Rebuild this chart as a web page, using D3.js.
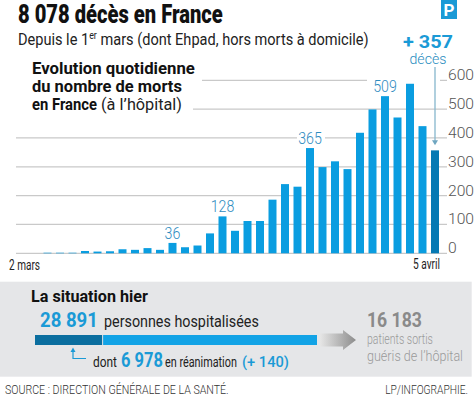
<!DOCTYPE html>
<html>
<head>
<meta charset="utf-8">
<script src="https://cdn.jsdelivr.net/npm/d3@7"></script>
<style>
  html, body { margin: 0; padding: 0; background: #fff; }
  svg { display: block; }
</style>
</head>
<body>
<div id="chart"></div>
<script>
// Décès quotidiens à l'hôpital, 2 mars → 5 avril
const W = 474, H = 399;
const FONT = "Roboto, 'Noto Sans', sans-serif";

const days = d3.timeDay.range(new Date(2020, 2, 2), new Date(2020, 3, 6));
const deaths = [0, 0, 0, 2, 2, 2, 8, 6, 7, 14, 12, 18, 12, 36, 21, 27, 69, 128, 78,
  112, 112, 186, 240, 231, 365, 299, 319, 292, 418, 499, 545, 471, 588, 441, 357];
const annotated = [{ i: 13, text: '36' }, { i: 17, text: '128' }, { i: 24, text: '365' }, { i: 30, text: '509' }];
const yTicks = [0, 100, 200, 300, 400, 500, 600];
const xTickLabels = ['2 mars', '5 avril'];

const totalDeaths = '8 078';
const dayDeaths = '+ 357';
const hospSegments = [6978, 28891 - 6978]; // réanimation, reste
const hospTotal = '28 891', reaTotal = '6 978', reaDelta = '(+ 140)', recovered = '16 183';

const BLUE = '#0a9de0', BLUE_DARK = '#0679b3', LABEL = '#2f8cbf', GRID = '#c9c9c9';

const svg = d3.select('#chart').append('svg').attr('width', W).attr('height', H);

// squeeze a text horizontally to the width it has in the print graphic (condensed face)
function squeeze(t, x, y, w) {
  const nat = t.node().getComputedTextLength();
  const s = nat > 0 ? w / nat : 1;
  t.attr('x', 0).attr('y', 0).attr('transform', 'translate(' + x + ',' + y + ') scale(' + s + ',1)');
}

function txt(g, x, y, s, o) {
  o = o || {};
  const t = g.append('text')
    .attr('x', x).attr('y', y)
    .attr('font-family', o.family || FONT)
    .attr('font-size', o.size || 14)
    .attr('font-weight', o.weight || 400)
    .attr('fill', o.color || '#1a1a1a')
    .attr('text-anchor', o.anchor || 'start')
    .text(s);
  if (o.w) squeeze(t, x, y, o.w);
  return t;
}

// Titre
txt(svg, 18, 23, totalDeaths + ' décès en France', { size: 25, weight: 900, color: '#111', w: 205 });
const sub = svg.append('text')
  .attr('font-family', FONT).attr('font-size', 16.5).attr('fill', '#222');
sub.append('tspan').text('Depuis le 1');
sub.append('tspan').attr('font-size', 10).attr('dy', -6).text('er');
sub.append('tspan').attr('dy', 6).text(' mars (dont Ehpad, hors morts à domicile)');
squeeze(sub, 18, 45, 351);

// Logo
svg.append('rect').attr('x', 441).attr('y', 0).attr('width', 16).attr('height', 19).attr('fill', '#1a9ad6');
txt(svg, 449, 16, 'P', { size: 17, weight: 700, color: '#fff', anchor: 'middle' });

// Échelles
const x = d3.scaleBand().domain(d3.range(days.length)).range([3.75, 441.25]).paddingInner(0.36).paddingOuter(0.18);
const y = d3.scaleLinear().domain([0, 600]).range([253.3, 80.3]);

// Grille
const grid = svg.append('g');
yTicks.forEach(function (v) {
  var x0 = 16;
  if (v === 600) x0 = 202;
  if (v === 500) x0 = 193;
  grid.append('line')
    .attr('x1', x0).attr('x2', 447)
    .attr('y1', y(v)).attr('y2', y(v))
    .attr('stroke', GRID).attr('stroke-width', 1.2);
  txt(grid, 448, y(v), String(v), { size: 14.5, weight: 300, color: '#555', w: String(v).length * 8.7 });
});

// Coupures blanches de la grille derrière les étiquettes
svg.append('rect').attr('x', 367).attr('y', 76).attr('width', 73).attr('height', 8).attr('fill', '#fff');
svg.append('rect').attr('x', 297).attr('y', 134).attr('width', 28).attr('height', 8).attr('fill', '#fff');

// Barres
svg.append('g').selectAll('rect')
  .data(deaths)
  .join('rect')
  .attr('x', function (d, i) { return x(i); })
  .attr('y', function (d) { return y(d); })
  .attr('width', x.bandwidth())
  .attr('height', function (d) { return y(0) - y(d); })
  .attr('fill', function (d, i) { return i === deaths.length - 1 ? BLUE_DARK : BLUE; });

// Étiquettes
annotated.forEach(function (a) {
  txt(svg, x(a.i) + x.bandwidth() / 2, y(deaths[a.i]) - 4, a.text,
    { size: 16.5, weight: 300, color: LABEL, anchor: 'middle', w: a.text.length * 7.9 });
});

// Axe x
txt(svg, 9, 270, xTickLabels[0], { size: 15, color: '#222', w: 31 });
txt(svg, 440, 269, xTickLabels[1], { size: 15, color: '#222', anchor: 'end', w: 27 });

// Titre du graphique
txt(svg, 32, 74.3, 'Evolution quotidienne', { size: 16, weight: 700, color: '#111', w: 163 });
txt(svg, 32, 92.3, 'du nombre de morts', { size: 16, weight: 700, color: '#111', w: 150 });
txt(svg, 32, 110.3, 'en France', { size: 16, weight: 700, color: '#111', w: 65 });
txt(svg, 101, 110.3, '(à l’hôpital)', { size: 16, color: '#222', w: 81 });

// + 357 décès
txt(svg, 428, 48.3, dayDeaths, { size: 19, weight: 700, color: '#1a9ad6', anchor: 'middle', w: 50 });
txt(svg, 428, 63.5, 'décès', { size: 14.5, weight: 300, color: '#2a8dc0', anchor: 'middle', w: 37 });
const last = deaths.length - 1;
const ax = x(last) + x.bandwidth() / 2;
svg.append('line')
  .attr('x1', ax).attr('x2', ax).attr('y1', 67).attr('y2', y(deaths[last]) - 9)
  .attr('stroke', '#86b6cc').attr('stroke-width', 1.3);
svg.append('path')
  .attr('d', 'M' + (ax - 3) + ',' + (y(deaths[last]) - 10) + 'L' + (ax + 3) + ',' + (y(deaths[last]) - 10) + 'L' + ax + ',' + (y(deaths[last]) - 5) + 'Z')
  .attr('fill', '#6fa6c0');

// Bloc "La situation hier"
const box = svg.append('g');
box.append('rect').attr('x', 0).attr('y', 281.7).attr('width', 471.7).attr('height', 95).attr('fill', '#e5e6e8');
txt(box, 31, 301.7, 'La situation hier', { size: 16, weight: 700, color: '#111', w: 117 });
txt(box, 40, 327, hospTotal, { size: 20, weight: 700, color: '#1a9ad6', w: 58 });
txt(box, 104, 327, 'personnes hospitalisées', { size: 16.5, color: '#222', w: 155 });

const hx = d3.scaleLinear().domain([0, d3.sum(hospSegments)]).range([35, 317]);
let acc = 0;
hospSegments.forEach(function (v, i) {
  box.append('rect')
    .attr('x', hx(acc)).attr('y', 335)
    .attr('width', hx(acc + v) - hx(acc) - (i === 0 ? 1 : 0)).attr('height', 10)
    .attr('fill', i === 0 ? '#0b6e9f' : '#12a3e6');
  acc += v;
});

const grad = svg.append('defs').append('linearGradient').attr('id', 'garrow');
grad.append('stop').attr('offset', '0%').attr('stop-color', '#e6e6e6');
grad.append('stop').attr('offset', '100%').attr('stop-color', '#8c8c8c');
box.append('path')
  .attr('d', 'M320,333.5L343,333.5L343,330L356,340L343,350L343,346.5L320,346.5Z')
  .attr('fill', 'url(#garrow)');

txt(box, 367, 326.7, recovered, { size: 20, weight: 700, color: '#8a8a8a', w: 55 });
txt(box, 367, 344, 'patients sortis', { size: 15, weight: 300, color: '#9a9a9a', w: 66 });
txt(box, 367, 361, 'guéris de l’hôpital', { size: 15, weight: 300, color: '#9a9a9a', w: 96 });

// Flèche réanimation
box.append('path')
  .attr('d', 'M73,350L73,358.5L86,358.5')
  .attr('fill', 'none').attr('stroke', '#1a9ad6').attr('stroke-width', 1.2);
box.append('path').attr('d', 'M70.5,352L75.5,352L73,347.5Z').attr('fill', '#1a9ad6');
txt(box, 93, 366.7, 'dont', { size: 15, color: '#222', w: 24 });
txt(box, 121, 366.7, reaTotal, { size: 20, weight: 700, color: '#1a9ad6', w: 42 });
txt(box, 165, 366.7, 'en réanimation', { size: 14.5, color: '#222', w: 72 });
txt(box, 242, 366.7, reaDelta, { size: 15, weight: 500, color: '#1a9ad6', w: 47 });

// Pied
txt(svg, 5, 394, 'SOURCE : DIRECTION GÉNÉRALE DE LA SANTÉ.', { size: 13, weight: 300, color: '#333', w: 224 });
txt(svg, 468, 394, 'LP/INFOGRAPHIE.', { size: 13, weight: 300, color: '#333', anchor: 'end', w: 83 });
</script>
</body>
</html>
